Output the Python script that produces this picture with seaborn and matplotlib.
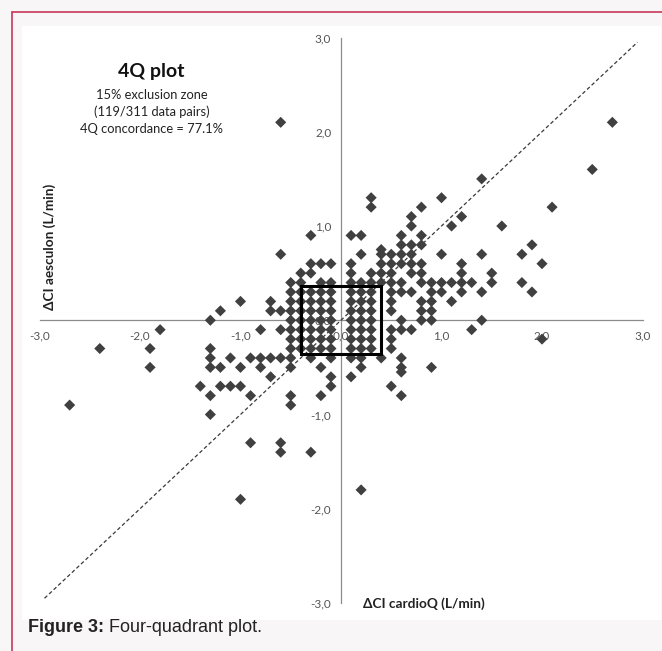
import matplotlib
matplotlib.use("Agg")
import matplotlib.pyplot as plt
import seaborn as sns
import pandas as pd
from matplotlib.patches import Rectangle
from matplotlib.ticker import FuncFormatter

# ---------------- data (ΔCI cardioQ, ΔCI aesculon) in L/min ----------------
exclusion_zone_pts = [
    (-0.4, 0.3), (-0.3, 0.3), (-0.2, 0.3), (-0.1, 0.3), (0.1, 0.3), (0.2, 0.3), (0.3, 0.3),
    (-0.4, 0.2), (-0.3, 0.2), (-0.2, 0.2), (-0.1, 0.2), (0.1, 0.2), (0.2, 0.2), (0.3, 0.2),
    (-0.4, 0.1), (-0.3, 0.1), (-0.2, 0.1), (-0.1, 0.1), (0.1, 0.1), (0.2, 0.1), (0.3, 0.1),
    (-0.4, 0.0), (-0.3, 0.0), (-0.2, 0.0), (-0.1, 0.0), (0.1, 0.0), (0.2, 0.0), (0.3, 0.0),
    (-0.4, -0.1), (-0.3, -0.1), (-0.2, -0.1), (-0.1, -0.1), (0.1, -0.1), (0.2, -0.1), (0.3, -0.1),
    (-0.4, -0.2), (-0.3, -0.2), (-0.2, -0.2), (-0.1, -0.2), (0.1, -0.2), (0.2, -0.2), (0.3, -0.2),
    (-0.4, -0.3), (-0.3, -0.3), (-0.2, -0.3), (-0.1, -0.3), (0.1, -0.3), (0.2, -0.3), (0.3, -0.3),
]
upper_right_pts = [
    (2.7, 2.1), (2.5, 1.6), (1.4, 1.5), (0.3, 1.3), (1.0, 1.3), (0.3, 1.2), (0.8, 1.2), (2.1, 1.2),
    (0.7, 1.1), (1.2, 1.1), (0.7, 1.0), (1.1, 1.0), (1.6, 1.0),
    (0.1, 0.9), (0.2, 0.9), (0.6, 0.9), (0.8, 0.9), (0.6, 0.8), (0.7, 0.8), (0.8, 0.8), (1.9, 0.8),
    (0.4, 0.75),
    (0.2, 0.7), (0.4, 0.7), (0.5, 0.7), (0.6, 0.7), (0.7, 0.7), (1.0, 0.7), (1.4, 0.7), (1.8, 0.7),
    (0.1, 0.6), (0.4, 0.6), (0.5, 0.6), (0.6, 0.6), (0.7, 0.6), (0.8, 0.6), (1.2, 0.6), (2.0, 0.6),
    (0.1, 0.5), (0.3, 0.5), (0.4, 0.5), (0.5, 0.5), (0.7, 0.5), (0.8, 0.5), (1.2, 0.5), (1.5, 0.5),
    (0.1, 0.4), (0.2, 0.4), (0.3, 0.4), (0.4, 0.4), (0.5, 0.4), (0.6, 0.4), (0.8, 0.4), (0.9, 0.4),
    (1.0, 0.4), (1.1, 0.4), (1.2, 0.4), (1.3, 0.4), (1.5, 0.4), (1.8, 0.4),
    (0.5, 0.3), (0.6, 0.3), (0.7, 0.3), (0.9, 0.3), (1.0, 0.3), (1.2, 0.3), (1.4, 0.3), (1.9, 0.3),
    (0.5, 0.2), (0.8, 0.2), (0.9, 0.2), (1.1, 0.2),
    (0.5, 0.1), (0.8, 0.1), (0.9, 0.1),
    (0.6, 0.0), (0.8, 0.0), (0.9, 0.0), (1.4, 0.0),
]
upper_left_pts = [
    (-0.6, 2.1), (-0.3, 0.9), (-0.6, 0.7), (-0.3, 0.6), (-0.2, 0.6), (-0.1, 0.6),
    (-0.4, 0.5), (-0.3, 0.5), (-0.5, 0.4), (-0.4, 0.4), (-0.2, 0.4), (-0.1, 0.4),
    (-0.5, 0.3), (-1.0, 0.2), (-0.7, 0.2), (-0.5, 0.2),
    (-1.2, 0.1), (-0.7, 0.1), (-0.6, 0.1), (-0.5, 0.1), (-1.3, 0.0), (-0.5, 0.0),
]
lower_left_pts = [
    (-1.8, -0.1), (-0.8, -0.1), (-0.6, -0.1), (-0.5, -0.1), (-0.5, -0.2),
    (-2.4, -0.3), (-1.9, -0.3), (-1.3, -0.3), (-0.5, -0.3),
    (-1.3, -0.4), (-1.1, -0.4), (-0.9, -0.4), (-0.8, -0.4), (-0.7, -0.4), (-0.6, -0.4),
    (-0.5, -0.4), (-0.3, -0.4), (-0.1, -0.4),
    (-1.9, -0.5), (-1.3, -0.5), (-1.2, -0.5), (-1.0, -0.5), (-0.8, -0.5), (-0.5, -0.5), (-0.2, -0.5),
    (-0.7, -0.6), (-0.1, -0.6),
    (-1.4, -0.7), (-1.2, -0.7), (-1.1, -0.7), (-1.0, -0.7), (-0.1, -0.7),
    (-1.3, -0.8), (-0.9, -0.8), (-0.5, -0.8), (-0.2, -0.8),
    (-2.7, -0.9), (-0.5, -0.9), (-1.3, -1.0),
    (-0.9, -1.3), (-0.6, -1.3), (-0.6, -1.4), (-0.3, -1.4), (-1.0, -1.9),
]
lower_right_pts = [
    (0.5, -0.1), (0.6, -0.1), (0.7, -0.1), (1.3, -0.1), (0.5, -0.2), (2.0, -0.2), (0.5, -0.3),
    (0.1, -0.4), (0.2, -0.4), (0.4, -0.4), (0.6, -0.4),
    (0.2, -0.5), (0.6, -0.5), (0.9, -0.5), (0.6, -0.55),
    (0.1, -0.6), (0.5, -0.7), (0.6, -0.8), (0.2, -1.8),
]

axis_ticks = [-3.0, -2.0, -1.0, 0.0, 1.0, 2.0, 3.0]
axis_limits = (-3.0, 3.0)
identity_range = [-2.95, 2.95]
exclusion_half_x = 0.4
exclusion_half_y = 0.36

title_text = "4Q plot"
info_lines = ["15% exclusion zone", "(119/311 data pairs)", "4Q concordance = 77.1%"]
x_label = "ΔCI cardioQ (L/min)"
y_label = "ΔCI aesculon (L/min)"
caption_bold = "Figure 3:"
caption_rest = " Four-quadrant plot."

# ---------------- build table ----------------
all_pts = exclusion_zone_pts + upper_right_pts + upper_left_pts + lower_left_pts + lower_right_pts
df = pd.DataFrame(all_pts, columns=["cardioq", "aesculon"])

# ---------------- figure ----------------
sns.set_theme(style="white")
plt.rcParams["font.family"] = ["Lato", "DejaVu Sans"]

W, H = 662, 651
fig = plt.figure(figsize=(W / 100, H / 100), dpi=100)
fig.patch.set_facecolor("#f8f6f7")

def fx(px):
    return px / W

def fy(py):
    return 1 - py / H

# white chart area (behind everything)
bg = Rectangle((fx(22), fy(620)), fx(661) - fx(22), fy(26) - fy(620),
               transform=fig.transFigure, facecolor="white", edgecolor="none", zorder=-10)
fig.add_artist(bg)
# crimson frame (left and top visible)
fig.add_artist(plt.Line2D([fx(11.5), fx(11.5)], [fy(11.5), 0], transform=fig.transFigure,
                          color="#c8385a", lw=1.2, zorder=-5))
fig.add_artist(plt.Line2D([fx(11.5), 1], [fy(11.5), fy(11.5)], transform=fig.transFigure,
                          color="#c8385a", lw=1.2, zorder=-5))

ax = fig.add_axes([fx(39.5), fy(603), fx(642.5) - fx(39.5), fy(37.5) - fy(603)])
ax.set_zorder(1)
ax.patch.set_alpha(0)

sns.scatterplot(data=df, x="cardioq", y="aesculon", marker="D", s=32,
                color="#404040", edgecolor="none", linewidth=0, ax=ax, zorder=3)

ax.plot(identity_range, identity_range, linestyle=(0, (3, 2)), color="#3a3a3a",
        lw=0.9, zorder=2)
ax.add_patch(Rectangle((-exclusion_half_x, -exclusion_half_y), 2 * exclusion_half_x,
                       2 * exclusion_half_y, fill=False, edgecolor="black", lw=2.2, zorder=4))

ax.set_xlim(*axis_limits)
ax.set_ylim(*axis_limits)
ax.set_xticks(axis_ticks)
ax.set_yticks(axis_ticks)
fmt = FuncFormatter(lambda v, p: f"{v:.1f}".replace(".", ","))
ax.xaxis.set_major_formatter(fmt)
ax.yaxis.set_major_formatter(fmt)

for side in ["top", "right"]:
    ax.spines[side].set_visible(False)
for side in ["left", "bottom"]:
    ax.spines[side].set_position(("data", 0))
    ax.spines[side].set_color("#8c8c8c")
    ax.spines[side].set_linewidth(0.9)
    ax.spines[side].set_zorder(1.5)

ax.tick_params(axis="both", direction="out", length=3, width=0.8, color="#8c8c8c",
               labelsize=8.5, labelcolor="#555555", pad=4)
ax.set_xlabel("")
ax.set_ylabel("")
ax.grid(False)

# axis titles
fig.text(fx(424), fy(604), x_label, ha="center", va="center", fontsize=9.8,
         fontweight="bold", color="#222222")
fig.text(fx(50), fy(247), y_label, ha="center", va="center", fontsize=9.8,
         fontweight="bold", color="#222222", rotation=90)

# info block
fig.text(fx(151), fy(72), title_text, ha="center", va="center", fontsize=14,
         fontweight="bold", color="#111111")
for line, py in zip(info_lines, [95, 112, 129]):
    fig.text(fx(152), fy(py), line, ha="center", va="center", fontsize=9.3,
             color="#222222")

# caption
t1 = fig.text(fx(28), fy(628), caption_bold, ha="left", va="center", fontsize=13,
              fontweight="bold", color="#222222", family=["Liberation Sans", "DejaVu Sans"])
fig.canvas.draw()
bb = t1.get_window_extent(renderer=fig.canvas.get_renderer())
fig.text(bb.x1 / W, fy(628), caption_rest, ha="left", va="center", fontsize=13,
         color="#222222", family=["Liberation Sans", "DejaVu Sans"])

fig.savefig("out.png", dpi=100, facecolor=fig.get_facecolor())
